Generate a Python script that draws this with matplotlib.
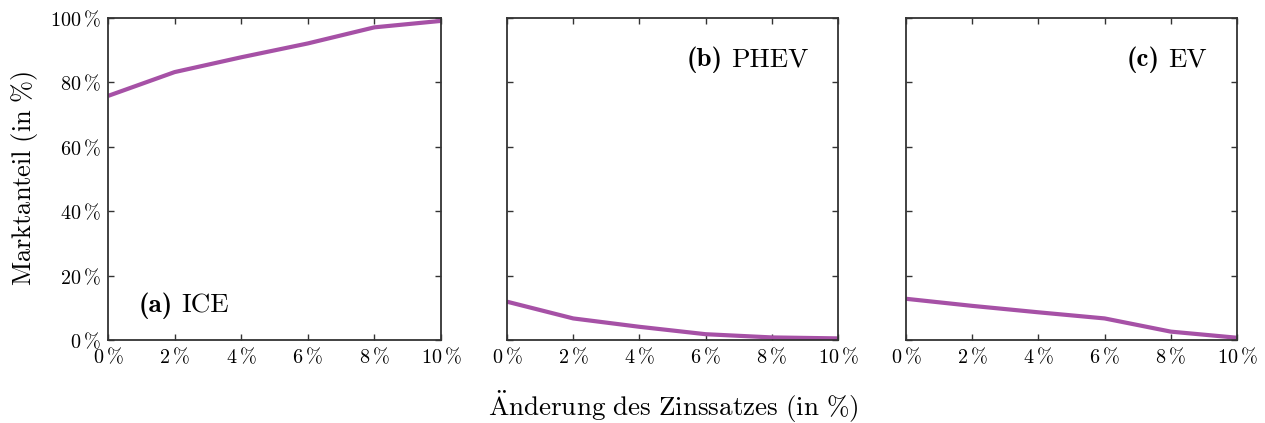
import matplotlib
matplotlib.use("Agg")
import matplotlib.pyplot as plt
from matplotlib.ticker import FuncFormatter
from matplotlib.offsetbox import TextArea, HPacker, AnchoredOffsetbox

plt.rcParams["mathtext.fontset"] = "cm"
plt.rcParams["font.family"] = ["cmr10", "DejaVu Serif"]
plt.rcParams["axes.unicode_minus"] = False

# Change of interest rate (percentage points)
rate_change = [0, 2, 4, 6, 8, 10]

# Market shares (in %) per powertrain
share_ice = [75.8, 83.2, 87.8, 92.1, 97.1, 99.1]
share_phev = [11.9, 6.7, 4.1, 1.8, 0.8, 0.5]
share_ev = [12.8, 10.6, 8.6, 6.7, 2.6, 0.7]

panel_tags = ["(a)", "(b)", "(c)"]
panel_names = ["ICE", "PHEV", "EV"]
y_ticks = [0, 20, 40, 60, 80, 100]
x_ticks = [0, 2, 4, 6, 8, 10]

line_color = "#a651a6"
spine_color = "#333333"

fig = plt.figure(figsize=(12.65, 4.23), dpi=100)
lefts = [108 / 1265, 507 / 1265, 906 / 1265]
widths = [333 / 1265, 331 / 1265, 331 / 1265]
bottom = 83 / 423
height = 322 / 423

pct = FuncFormatter(lambda v, p: r"$%d\,\%%$" % int(round(v)))

series = [share_ice, share_phev, share_ev]
axes = []
for i, (l, w, s) in enumerate(zip(lefts, widths, series)):
    ax = fig.add_axes([l, bottom, w, height])
    ax.plot(rate_change, s, color=line_color, lw=3.0, solid_capstyle="butt")
    ax.set_xlim(0, 10)
    ax.set_ylim(0, 100)
    ax.set_xticks(x_ticks)
    ax.set_yticks(y_ticks)
    ax.xaxis.set_major_formatter(pct)
    ax.yaxis.set_major_formatter(pct)
    ax.tick_params(direction="in", top=True, right=True, length=4.5,
                   width=1.0, color=spine_color, labelsize=14.5, pad=5)
    if i > 0:
        ax.tick_params(labelleft=False)
    for sp in ax.spines.values():
        sp.set_color(spine_color)
        sp.set_linewidth(1.3)
    axes.append(ax)


def panel_label(ax, tag, name, loc, anchor):
    tag_area = TextArea(tag, textprops=dict(fontfamily="cmb10", fontsize=19.5))
    name_area = TextArea(name, textprops=dict(fontfamily="cmr10", fontsize=19.5))
    box = HPacker(children=[tag_area, name_area], align="baseline", pad=0, sep=6)
    anchored = AnchoredOffsetbox(loc=loc, child=box, pad=0, borderpad=0,
                                 frameon=False, bbox_to_anchor=anchor,
                                 bbox_transform=ax.transAxes)
    ax.add_artist(anchored)


panel_label(axes[0], panel_tags[0], panel_names[0], "center left", (0.093, 0.105))
panel_label(axes[1], panel_tags[1], panel_names[1], "center right", (0.91, 0.87))
panel_label(axes[2], panel_tags[2], panel_names[2], "center right", (0.91, 0.87))

fig.text(25 / 1265, 1 - 178 / 423, r"$\mathrm{Marktanteil\ (in\ \%)}$",
         rotation=90, fontsize=19, ha="center", va="center")
fig.text(673 / 1265, 1 - 407 / 423,
         r"$\mathrm{\ddot{A}nderung\ des\ Zinssatzes\ (in\ \%)}$",
         fontsize=19.5, ha="center", va="center")

fig.savefig("out.png", dpi=100)
